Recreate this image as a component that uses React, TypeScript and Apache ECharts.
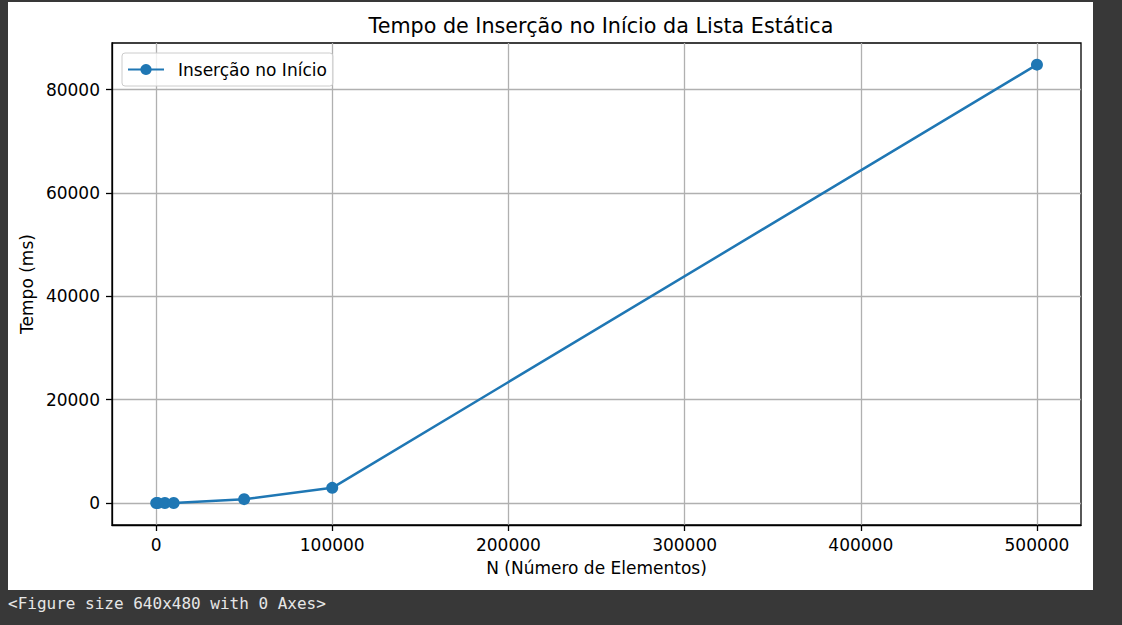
import React, { useEffect, useRef } from "react";
import * as echarts from "echarts";

const nValues = [100, 1000, 5000, 10000, 50000, 100000, 500000];
const timeMs = [0.01, 0.3, 7, 30, 760, 2950, 84850];
const xTicks = [0, 100000, 200000, 300000, 400000, 500000];
const yTicks = [0, 20000, 40000, 60000, 80000];

const titleText = "Tempo de Inserção no Início da Lista Estática";
const xLabel = "N (Número de Elementos)";
const yLabel = "Tempo (ms)";
const seriesName = "Inserção no Início";
const footerText = "<Figure size 640x480 with 0 Axes>";

const FONT = "DejaVu Sans";

export default function App() {
  const ref = useRef<HTMLDivElement>(null);

  useEffect(() => {
    document.body.style.margin = "0";
    document.body.style.background = "#383838";
    const chart = echarts.init(ref.current!, null, { renderer: "svg" });
    const data = nValues.map((n, i) => [n, timeMs[i]]);
    chart.setOption({
      animation: false,
      backgroundColor: "#383838",
      title: {
        text: titleText,
        left: 596,
        top: 10,
        textAlign: "center",
        textStyle: { fontFamily: FONT, fontSize: 20.7, fontWeight: "normal", color: "#000" },
      },
      graphic: [
        {
          type: "rect",
          z: -10,
          silent: true,
          shape: { x: 8, y: 2, width: 1085, height: 588 },
          style: { fill: "#ffffff" },
        },
        {
          type: "text",
          x: 8,
          y: 603,
          style: {
            text: footerText,
            fontFamily: "DejaVu Sans Mono",
            fontSize: 16,
            fill: "#e6e6e6",
            verticalAlign: "middle",
          },
        },
      ],
      legend: {
        left: 122,
        top: 53,
        padding: [8, 6, 8, 5],
        itemWidth: 36,
        itemHeight: 14,
        backgroundColor: "rgba(255,255,255,0.8)",
        borderColor: "#cccccc",
        borderWidth: 1,
        borderRadius: 3,
        textStyle: { fontFamily: FONT, fontSize: 17, color: "#000", padding: [0, 0, 0, 9] },
        data: [seriesName],
      },
      grid: {
        left: 112,
        top: 43,
        right: 41,
        bottom: 100,
        show: true,
        borderColor: "#000",
        borderWidth: 1.3,
        backgroundColor: "transparent",
      },
      xAxis: {
        type: "value",
        min: -25000,
        max: 525000,
        name: xLabel,
        nameLocation: "middle",
        nameGap: 34,
        nameTextStyle: { fontFamily: FONT, fontSize: 17, color: "#000" },
        axisLine: { show: true, onZero: false, lineStyle: { color: "#000", width: 1.3 } },
        axisTick: {
          show: true,
          inside: false,
          length: 6,
          lineStyle: { color: "#000", width: 1.3 },
          customValues: xTicks,
        },
        axisLabel: {
          fontFamily: FONT,
          fontSize: 17,
          color: "#000",
          margin: 11,
          customValues: xTicks,
          formatter: (v: number) => String(v),
        },
        splitLine: { show: true, lineStyle: { color: "#b0b0b0", width: 1.3 } },
      },
      yAxis: {
        type: "value",
        min: -4240,
        max: 89040,
        name: yLabel,
        nameLocation: "middle",
        nameGap: 76,
        nameTextStyle: { fontFamily: FONT, fontSize: 17, color: "#000" },
        axisLine: { show: true, onZero: false, lineStyle: { color: "#000", width: 1.3 } },
        axisTick: {
          show: true,
          inside: false,
          length: 6,
          lineStyle: { color: "#000", width: 1.3 },
          customValues: yTicks,
        },
        axisLabel: {
          fontFamily: FONT,
          fontSize: 17,
          color: "#000",
          margin: 12,
          customValues: yTicks,
          formatter: (v: number) => String(v),
        },
        splitLine: { show: true, lineStyle: { color: "#b0b0b0", width: 1.3 } },
      },
      series: [
        {
          name: seriesName,
          type: "line",
          data,
          symbol: "circle",
          symbolSize: 12,
          showSymbol: true,
          lineStyle: { color: "#1f77b4", width: 2.5 },
          itemStyle: { color: "#1f77b4" },
          z: 4,
        },
      ],
    });
    return () => chart.dispose();
  }, []);

  return <div ref={ref} style={{ width: 1122, height: 625 }} />;
}
